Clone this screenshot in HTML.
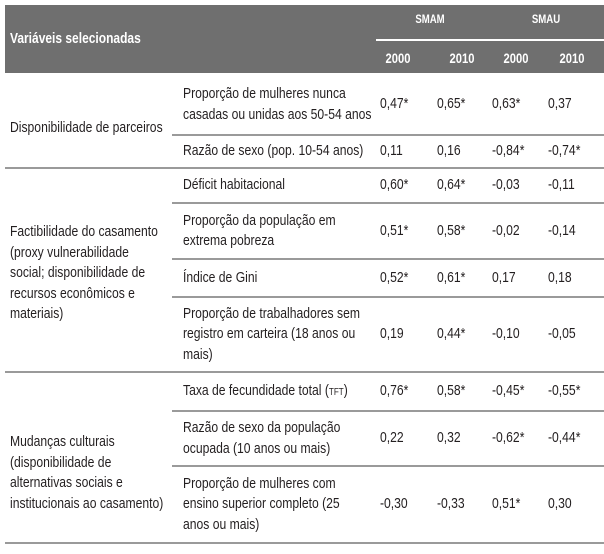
<!DOCTYPE html>
<html><head><meta charset="utf-8"><style>
body{margin:0;width:604px;height:554px;background:#fff;position:relative;overflow:hidden;font-family:"Liberation Sans",sans-serif;font-size:15px;color:#231f20}
.t{position:absolute;line-height:20.5px;white-space:nowrap;transform:scaleX(0.81);transform-origin:0 0}
.h{position:absolute;color:#fff;font-weight:bold;font-size:14px;line-height:16px;white-space:nowrap;transform:scaleX(0.8);transform-origin:50% 0}
.ln{position:absolute;height:2px;background:#9a9a9a}
.sc{font-size:10px}
</style></head><body>
<div style="position:absolute;left:5px;top:5px;width:599px;height:68px;background:#6f6f6f"></div>
<div class="h" style="left:10px;top:31px;font-size:15px;transform-origin:0 0">Variáveis selecionadas</div>
<div class="h" style="left:405px;top:11px;width:50px;text-align:center;font-size:12px">SMAM</div>
<div class="h" style="left:521px;top:11px;width:50px;text-align:center;font-size:12px">SMAU</div>
<div style="position:absolute;left:376px;top:39px;width:228px;height:2px;background:#fff"></div>
<div class="h" style="left:378px;top:50px;width:40px;text-align:center">2000</div>
<div class="h" style="left:442px;top:50px;width:40px;text-align:center">2010</div>
<div class="h" style="left:496px;top:50px;width:40px;text-align:center">2000</div>
<div class="h" style="left:552px;top:50px;width:40px;text-align:center">2010</div>

<div class="t" style="left:10px;top:118px">Disponibilidade de parceiros</div>
<div class="t" style="left:10px;top:222px">Factibilidade do casamento<br>(proxy vulnerabilidade<br>social; disponibilidade de<br>recursos econômicos e<br>materiais)</div>
<div class="t" style="left:10px;top:432px">Mudanças culturais<br>(disponibilidade de<br>alternativas sociais e<br>institucionais ao casamento)</div>

<div class="ln" style="left:172px;top:134px;width:432px"></div>
<div class="ln" style="left:5px;top:167px;width:599px"></div>
<div class="ln" style="left:172px;top:202px;width:432px"></div>
<div class="ln" style="left:172px;top:258px;width:432px"></div>
<div class="ln" style="left:172px;top:296px;width:432px"></div>
<div class="ln" style="left:5px;top:371px;width:599px"></div>
<div class="ln" style="left:172px;top:410px;width:432px"></div>
<div class="ln" style="left:172px;top:465px;width:432px"></div>
<div class="ln" style="left:5px;top:542px;width:599px"></div>

<div id="rows"></div>
<script>
const labels=["Proporção de mulheres nunca<br>casadas ou unidas aos 50-54 anos","Razão de sexo (pop. 10-54 anos)","Déficit habitacional","Proporção da população em<br>extrema pobreza","Índice de Gini","Proporção de trabalhadores sem<br>registro em carteira (18 anos ou<br>mais)","Taxa de fecundidade total (<span class='sc'>TFT</span>)","Razão de sexo da população<br>ocupada (10 anos ou mais)","Proporção de mulheres com<br>ensino superior completo (25<br>anos ou mais)"];
const smam2000=["0,47*","0,11","0,60*","0,51*","0,52*","0,19","0,76*","0,22","-0,30"];
const smam2010=["0,65*","0,16","0,64*","0,58*","0,61*","0,44*","0,58*","0,32","-0,33"];
const smau2000=["0,63*","-0,84*","-0,03","-0,02","0,17","-0,10","-0,45*","-0,62*","0,51*"];
const smau2010=["0,37","-0,74*","-0,11","-0,14","0,18","-0,05","-0,55*","-0,44*","0,30"];
const rowTop=[73,134,167,202,258,296,371,410,465];
const rowBot=[134,167,202,258,296,371,410,465,542];
const root=document.getElementById('rows');
const colX=[380,437,492,548];
const cols=[smam2000,smam2010,smau2000,smau2010];
labels.forEach((lab,i)=>{
  const n=lab.split('<br>').length;
  const c=(rowTop[i]+rowBot[i])/2+1;
  const d=document.createElement('div');
  d.className='t';
  
  
  d.style.left='183px';d.style.top=(c-n*10.25)+'px';
  d.innerHTML=lab;root.appendChild(d);
  cols.forEach((arr,j)=>{
    const v=document.createElement('div');
    v.className='t';
    
    
    v.style.left=colX[j]+'px';v.style.top=(c-10.25)+'px';
    v.textContent=arr[i];root.appendChild(v);
  });
});
</script>
</body></html>
